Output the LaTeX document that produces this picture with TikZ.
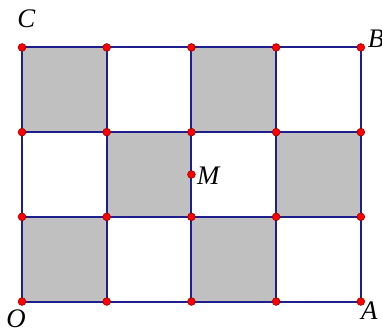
\documentclass[tikz,border=0pt]{standalone}
\usepackage{fontspec}
\setmainfont{Liberation Serif}
\definecolor{gridblue}{RGB}{30,30,140}
\definecolor{cellgray}{RGB}{192,192,192}
\tikzset{
	pt/.style={circle,fill=red,draw=red!60!black,line width=0.2pt,inner sep=0pt,minimum size=2.6pt},
	lbl/.style={font=\fontsize{9}{10}\selectfont\itshape,inner sep=0pt}
}

\begin{document}
\begin{tikzpicture}
		\useasboundingbox (-0.26,-0.325) rectangle (4.25,3.56);

		\foreach \i in {0,...,3}{
			\foreach \j in {0,...,2}{
				\pgfmathparse{int(mod(\i+\j,2))}
				\ifnum\pgfmathresult=0
					\fill[cellgray] (\i,\j) rectangle ++(1,1);
				\fi
			}
		}

		\foreach \i in {0,...,4}{
			\draw[gridblue,line width=0.65pt] (\i,0) -- (\i,3);
		}
		\foreach \j in {0,...,3}{
			\draw[gridblue,line width=0.65pt] (0,\j) -- (4,\j);
		}

		\foreach \i in {0,...,4}{
			\foreach \j in {0,...,3}{
				\node[pt] (p\i\j) at (\i,\j) {};
			}
		}
		\node[pt] (m) at (2,1.5) {};

		\node[lbl] (O) at (-0.07,-0.2) {O};
		\node[lbl] (A) at (4.1,-0.11) {A};
		\node[lbl] (B) at (4.18,3.1) {B};
		\node[lbl] (C) at (0.05,3.335) {C};
		\node[lbl] (M) at (2.2,1.48) {M};

	\end{tikzpicture}
\end{document}
